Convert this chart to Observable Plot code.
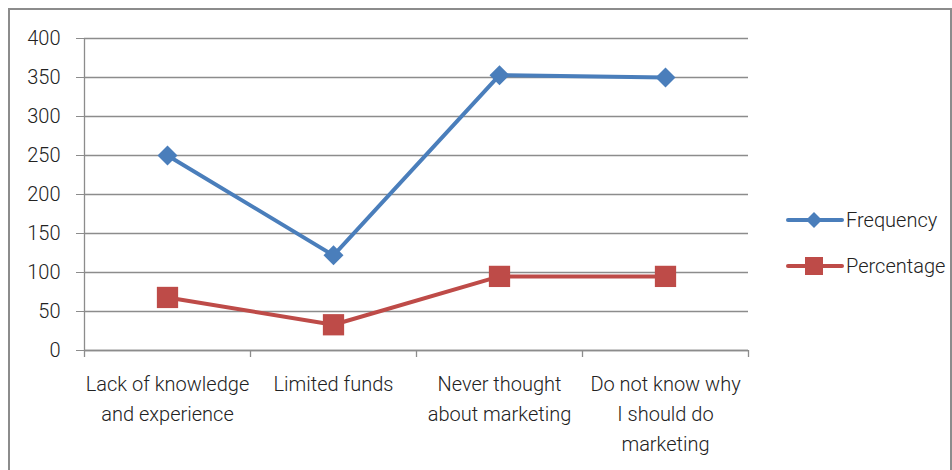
<!DOCTYPE html>
<html>
<head>
<meta charset="utf-8">
<script src="https://cdn.jsdelivr.net/npm/d3@7"></script>
<script src="https://cdn.jsdelivr.net/npm/@observablehq/plot@0.6"></script>
<style>
  html, body { margin: 0; padding: 0; background: #fff; }
  #wrap { position: relative; width: 952px; height: 470px; overflow: hidden; }
  #frame { position: absolute; left: 8px; top: 8px; width: 944px; height: 470px; border: 2px solid #8c8c8c; box-sizing: border-box; pointer-events: none; }
  #chart { position: absolute; left: 0; top: 0; }
  #chart svg { font-weight: 300; }
  .legend { position: absolute; left: 786px; font-family: Roboto, "DejaVu Sans", sans-serif; font-weight: 300; font-size: 20px; color: #222; display: flex; align-items: center; }
  .legend svg { display: block; margin-right: 2px; }
</style>
</head>
<body>
<div id="wrap">
  <div id="chart"></div>
  <div id="frame"></div>
</div>
<script>
const categories = ["Lack of knowledge\nand experience", "Limited funds", "Never thought\nabout marketing", "Do not know why\nI should do\nmarketing"];
const frequency = [250, 122, 353, 350];
const percentage = [68, 33, 95, 95];
const yTicks = [0, 50, 100, 150, 200, 250, 300, 350, 400];
const seriesNames = ["Frequency", "Percentage"];
const seriesColors = ["#4a7ebb", "#be4b48"];

const idx = categories.map((c, i) => i);
const boundaries = [-0.5, ...idx.map(i => i + 0.5)];
const freqData = idx.map(i => ({i, v: frequency[i]}));
const pctData = idx.map(i => ({i, v: percentage[i]}));
const font = 'Roboto, "DejaVu Sans", sans-serif';

const chart = Plot.plot({
  width: 952,
  height: 470,
  marginLeft: 84,
  marginRight: 204,
  marginTop: 38,
  marginBottom: 120,
  style: {fontFamily: font, fontSize: "20px", color: "#222", background: "transparent"},
  x: {domain: [-0.5, 3.5], axis: null},
  y: {domain: [0, 400], axis: null},
  marks: [
    Plot.gridY(yTicks, {stroke: "#8c8c8c", strokeOpacity: 1, strokeWidth: 1.3}),
    Plot.axisY({ticks: yTicks, label: null, tickSize: 8, tickPadding: 16, stroke: "#8c8c8c", fill: "#222", fontSize: 20}),
    Plot.ruleX([-0.5], {stroke: "#8c8c8c", strokeWidth: 1.3}),
    Plot.ruleY([0], {stroke: "#8c8c8c", strokeWidth: 1.3}),
    Plot.axisX({ticks: boundaries, label: null, tickSize: 7, tickFormat: () => "", stroke: "#8c8c8c", strokeWidth: 1.3}),
    Plot.axisX({ticks: idx, label: null, tickSize: 0, tickPadding: 19, tickFormat: i => categories[i], fill: "#222", fontSize: 20, lineHeight: 1.5}),
    Plot.line(pctData, {x: "i", y: "v", stroke: seriesColors[1], strokeWidth: 4}),
    Plot.dot(pctData, {x: "i", y: "v", symbol: "square", r: 12, fill: seriesColors[1], stroke: "none"}),
    Plot.line(freqData, {x: "i", y: "v", stroke: seriesColors[0], strokeWidth: 4}),
    Plot.dot(freqData, {x: "i", y: "v", symbol: "diamond2", r: 9, fill: seriesColors[0], stroke: "none"})
  ]
});
document.getElementById("chart").appendChild(chart);

// Legend
const legendTops = [204, 250];
seriesNames.forEach((name, k) => {
  const div = document.createElement("div");
  div.className = "legend";
  div.style.top = legendTops[k] + "px";
  const marker = k === 0
    ? `<path d="M28,8 L36,16 L28,24 L20,16 Z" fill="${seriesColors[k]}"/>`
    : `<rect x="19" y="7" width="18" height="18" fill="${seriesColors[k]}"/>`;
  div.innerHTML = `<svg width="58" height="32"><line x1="2" x2="56" y1="16" y2="16" stroke="${seriesColors[k]}" stroke-width="4" stroke-linecap="round"/>${marker}</svg><span>${name}</span>`;
  document.getElementById("wrap").appendChild(div);
});
</script>
</body>
</html>
